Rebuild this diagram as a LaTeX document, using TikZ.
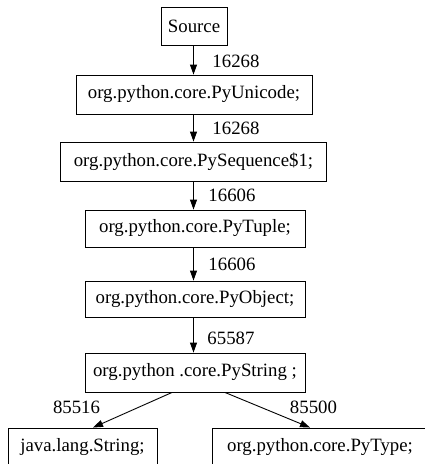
\documentclass[tikz,border=0pt]{standalone}
\usepackage{fontspec}
\newfontfamily\lib{Liberation Serif}
\usetikzlibrary{arrows.meta}
\begin{document}
\begin{tikzpicture}[x=1pt,y=-1pt,
  box/.style={draw,line width=0.9pt,inner sep=0pt,font=\fontsize{18.8}{22}\selectfont\lib},
  lab/.style={inner sep=0pt,font=\fontsize{18.8}{22}\selectfont\lib},
  arr/.style={line width=0.9pt,-{Triangle[length=10pt,width=7pt]}}]
\useasboundingbox (0,0) rectangle (425,464);
\clip (0,0) rectangle (425,464);
\node[box,minimum width=66pt,minimum height=38pt] (src) at (194,26) {Source};
\node[box,minimum width=236pt,minimum height=39pt] (uni) at (194,94.5) {org.python.core.PyUnicode;};
\node[box,minimum width=266pt,minimum height=39pt] (seq) at (193.5,161.5) {org.python.core.PySequence\$1;};
\node[box,minimum width=220pt,minimum height=37pt] (tup) at (195,228.5) {org.python.core.PyTuple;};
\node[box,minimum width=220pt,minimum height=36pt] (obj) at (195,299) {org.python.core.PyObject;};
\node[box,minimum width=220pt,minimum height=39pt] (str) at (195,372.5) {org.python .core.PyString ;};
\node[box,minimum width=149pt,minimum height=38pt] (jls) at (82.5,447) {java.lang.String;};
\node[box,minimum width=216pt,minimum height=38pt] (typ) at (320,447) {org.python.core.PyType;};
\draw[arr] (src.south -| 193.5,0) -- node[lab,anchor=west,xshift=18.5pt,yshift=-1pt]{16268} (uni.north -| 193.5,0);
\draw[arr] (uni.south -| 193.5,0) -- node[lab,anchor=west,xshift=18.5pt]{16268} (seq.north -| 193.5,0);
\draw[arr] (seq.south -| 193.5,0) -- node[lab,anchor=west,xshift=14.5pt]{16606} (tup.north -| 193.5,0);
\draw[arr] (tup.south -| 193.5,0) -- node[lab,anchor=west,xshift=14.5pt]{16606} (obj.north -| 193.5,0);
\draw[arr] (obj.south -| 193.5,0) -- node[lab,anchor=west,xshift=13.5pt,yshift=-3pt]{65587} (str.north -| 193.5,0);
\draw[arr] ([xshift=-23pt]str.south) -- node[lab,anchor=east,xshift=-32pt,yshift=3pt]{85516} ([xshift=10.5pt]jls.north);
\draw[arr] ([xshift=30pt]str.south) -- node[lab,anchor=west,xshift=22pt,yshift=3pt]{85500} ([xshift=-10pt]typ.north);
\end{tikzpicture}
\end{document}
